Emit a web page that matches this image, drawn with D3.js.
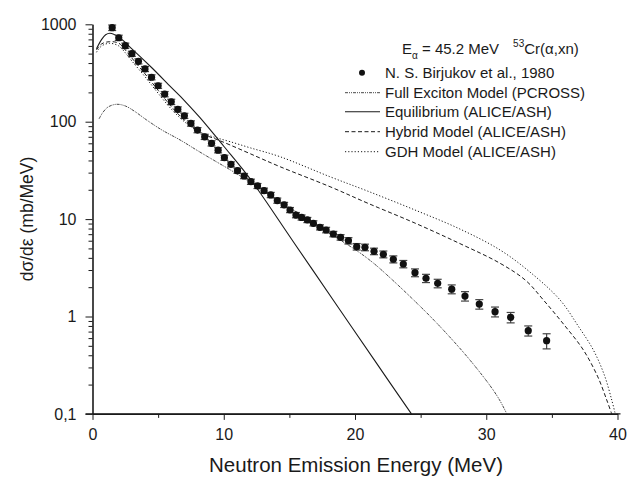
<!DOCTYPE html>
<html><head><meta charset="utf-8">
<script src="https://cdn.jsdelivr.net/npm/d3@7"></script>
<style>
html,body{margin:0;padding:0;background:#fff;}
svg{display:block;font-family:"Liberation Sans",Arial,Helvetica,sans-serif;}
</style></head>
<body>
<svg id="chart" width="630" height="478"></svg>
<script>
// ---- data ----
const expE = [1.5,2.0,2.5,3.0,3.5,4.0,4.5,5.0,5.5,6.0,6.5,7.0,7.5,8.0,8.55,9.07,9.57,10.05,10.55,11.05,11.55,12.07,12.57,13.07,13.58,14.08,14.6,15.05,15.5,15.93,16.37,16.83,17.33,17.8,18.35,18.9,19.5,20.13,20.76,21.45,22.16,22.92,23.68,24.57,25.41,26.3,27.37,28.38,29.47,30.67,31.86,33.2,34.6];
const expY = [923,728,603,499,417,348,286,234,192,160,134,115,96,82,70,60,51,42.7,36.5,31.4,27.7,24.2,21.9,19.6,17.7,15.5,14.0,12.4,11.0,10.4,9.8,9.06,8.24,7.73,7.03,6.5,6.0,5.21,5.13,4.67,4.35,3.87,3.46,2.82,2.47,2.19,1.91,1.62,1.34,1.12,0.98,0.715,0.565];
const expErr = [60,45,38,30,25,21,17,14,12,10,8,7,6,5,4.3,3.7,3.1,2.6,2.2,1.9,1.7,1.5,1.3,1.2,1.1,0.95,0.85,0.75,0.68,0.63,0.6,0.55,0.5,0.5,0.45,0.42,0.45,0.4,0.4,0.36,0.35,0.32,0.3,0.26,0.24,0.22,0.2,0.18,0.15,0.13,0.12,0.085,0.1];

// Full exciton model (PCROSS)
const excE = [0.5,0.8,1.2,1.84,2.5,3.2,4.13,5.3,6.67,8.0,9.2,10.5,11.75,12.5,14.0,16.0,17.84,19.0,20.38,21.5,22.67,24.2,25.71,27.2,28.76,30.29,31.0,31.57];
const excY = [107,125,142,151,145,128,104,82,65,50.5,40.5,32,25.2,22,16,10.8,7.43,5.95,4.5,3.45,2.5,1.6,1.01,0.62,0.357,0.195,0.14,0.1];

// Equilibrium (ALICE/ASH)
const eqE = [0.3,0.7,1.0,1.33,2.0,3.0,4.5,6.0,7.0,8.19,10.0,12.0,15.3,18.35,21.65,24.3];
const eqY = [560,700,780,809,740,560,360,225,165,110,56,26,5.85,1.47,0.33,0.1];

// Hybrid model (ALICE/ASH)
const hybE = [0.3,0.7,1.3,2.0,2.5,3.0,4.0,5.0,6.0,7.0,8.0,8.7,9.5,10.48,12.0,14.29,18.1,21.0,24.57,28.0,31.05,33.0,34.35,36.0,37.4,38.5,39.18,39.56];
const hybY = [545,630,663,640,545,450,310,210,143,104,81,72,65.5,57.7,47,34.5,21.5,14.5,9.1,5.6,3.52,2.35,1.48,0.8,0.453,0.24,0.139,0.1];

// GDH model (ALICE/ASH)
const gdhE = [0.3,0.7,1.3,2.0,2.5,3.0,4.0,5.0,6.0,7.0,8.0,8.7,9.5,10.48,12.0,14.29,18.1,21.0,24.57,28.0,31.05,33.33,35.62,37.0,38.16,39.0,39.56,39.83];
const gdhY = [516,600,638,600,510,420,290,196,135,100,80,73.5,68,62.4,54,43.7,27.2,19.3,12.4,7.9,4.82,2.86,1.48,0.8,0.453,0.25,0.139,0.1];

const xTicks = [0,10,20,30,40];
const xMinor = [5,15,25,35];
const yTicks = [1000,100,10,1,0.1];
const yTickLabels = ["1000","100","10","1","0,1"];
const yMinor = [2,3,4,5,6,7,8,9].flatMap(m => [0.1*m,1*m,10*m,100*m]);

const legendLabels = ["N. S. Birjukov et al., 1980","Full Exciton Model (PCROSS)","Equilibrium (ALICE/ASH)","Hybrid Model (ALICE/ASH)","GDH Model (ALICE/ASH)"];

// ---- chart ----
const svg = d3.select("#chart");
const x = d3.scaleLinear().domain([0,40]).range([92.5,617.5]);
const y = d3.scaleLog().domain([0.1,1000]).range([413.9,24.3]);
const ink = "#1a1a1a";

// axes
const gx = svg.append("g").attr("transform",`translate(0,${y(0.1)})`)
  .call(d3.axisBottom(x).tickValues(xTicks).tickFormat(d3.format("d")).tickSize(6).tickPadding(9).tickSizeOuter(0));
const gxm = svg.append("g").attr("transform",`translate(0,${y(0.1)})`)
  .call(d3.axisBottom(x).tickValues(xMinor).tickFormat("").tickSize(4).tickSizeOuter(0));
const gy = svg.append("g").attr("transform",`translate(${x(0)},0)`)
  .call(d3.axisLeft(y).tickValues(yTicks).tickFormat((d,i)=>yTickLabels[i]).tickSize(7).tickPadding(9).tickSizeOuter(0));
const gym = svg.append("g").attr("transform",`translate(${x(0)},0)`)
  .call(d3.axisLeft(y).tickValues(yMinor).tickFormat("").tickSize(4).tickSizeOuter(0));
[gx,gxm,gy,gym].forEach(g=>{
  g.selectAll("path.domain").attr("stroke",ink).attr("stroke-width",1.1);
  g.selectAll("line").attr("stroke",ink).attr("stroke-width",1);
  g.selectAll("text").attr("fill",ink).style("font-size","16px").style("font-family","'Liberation Sans',Arial,sans-serif");
});
gx.select("path.domain").attr("d",`M${x(0)-7},0H${x(40)+3}`);

// axis titles
svg.append("text").attr("x",356).attr("y",472).attr("text-anchor","middle")
  .attr("fill",ink).style("font-size","20.5px").text("Neutron Emission Energy (MeV)");
svg.append("text").attr("transform","translate(33,219) rotate(-90)").attr("text-anchor","middle")
  .attr("fill",ink).style("font-size","17.5px").text("dσ/dε  (mb/MeV)");

// curves
const line = d3.line().x(d=>x(d[0])).y(d=>y(d[1])).curve(d3.curveCatmullRom.alpha(0.5));
const series = [
  {E:excE, Y:excY, dash:"3,1,1,1,1,1", w:0.9, c:"#333"},
  {E:eqE, Y:eqY, dash:null, w:1.1, c:ink},
  {E:hybE, Y:hybY, dash:"4,2.5", w:1.0, c:ink},
  {E:gdhE, Y:gdhY, dash:"1.2,2", w:1.0, c:ink}
];
series.forEach(s=>{
  svg.append("path").datum(s.E.map((e,i)=>[e,s.Y[i]]))
    .attr("d",line).attr("fill","none").attr("stroke",s.c).attr("stroke-width",s.w)
    .attr("stroke-dasharray",s.dash);
});

// experimental points with error bars
const pts = expE.map((e,i)=>({e, v:expY[i], err:expErr[i]}));
const eb = svg.append("g").attr("stroke","#444").attr("stroke-width",1.2);
pts.forEach(p=>{
  const y1 = y(p.v+p.err), y2 = y(p.v-p.err), cx = x(p.e);
  eb.append("line").attr("x1",cx).attr("x2",cx).attr("y1",y1).attr("y2",y2);
  eb.append("line").attr("x1",cx-4).attr("x2",cx+4).attr("y1",y1).attr("y2",y1);
  eb.append("line").attr("x1",cx-4).attr("x2",cx+4).attr("y1",y2).attr("y2",y2);
});
svg.append("g").selectAll("circle").data(pts).join("circle")
  .attr("cx",d=>x(d.e)).attr("cy",d=>y(d.v)).attr("r",3.6).attr("fill","#111");

// legend
const lg = svg.append("g").attr("fill",ink).style("font-size","15px");
const t = lg.append("text").attr("x",402).attr("y",54);
t.append("tspan").text("E");
t.append("tspan").attr("dy",5).style("font-size","10px").text("α");
t.append("tspan").attr("dy",-5).text(" = 45.2 MeV");
t.append("tspan").attr("dy",-7).attr("dx",14).style("font-size","10px").text("53");
t.append("tspan").attr("dy",7).text("Cr(α,xn)");

const rowY = [72.7,92.7,111.7,131.7,151.7];
legendLabels.forEach((lab,i)=>{
  lg.append("text").attr("x",385).attr("y",rowY[i]+5.5).text(lab);
});
lg.append("circle").attr("cx",362).attr("cy",rowY[0]).attr("r",3).attr("fill","#111");
series.forEach((s,i)=>{
  lg.append("line").attr("x1",345).attr("x2",380).attr("y1",rowY[i+1]).attr("y2",rowY[i+1])
    .attr("stroke",s.c).attr("stroke-width",s.w).attr("stroke-dasharray",s.dash);
});
</script>
</body></html>
